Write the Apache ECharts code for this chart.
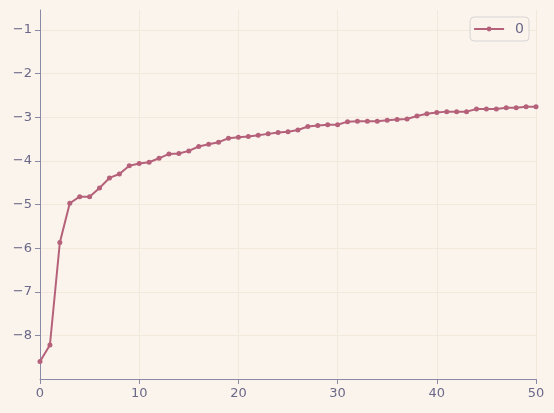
<!DOCTYPE html>
<html><head><meta charset="utf-8">
<script src="https://cdn.jsdelivr.net/npm/echarts@6/dist/echarts.min.js"></script>
<style>html,body{margin:0;padding:0;background:#faf4ed;}#c{width:554px;height:413px;}</style>
</head><body><div id="c"></div>
<script>
const xValues = [0,1,2,3,4,5,6,7,8,9,10,11,12,13,14,15,16,17,18,19,20,21,22,23,24,25,26,27,28,29,30,31,32,33,34,35,36,37,38,39,40,41,42,43,44,45,46,47,48,49,50];
const yValues = [-8.60,-8.22,-5.87,-4.97,-4.82,-4.82,-4.62,-4.39,-4.30,-4.11,-4.06,-4.03,-3.94,-3.84,-3.83,-3.77,-3.67,-3.62,-3.57,-3.48,-3.46,-3.44,-3.41,-3.38,-3.35,-3.33,-3.29,-3.21,-3.19,-3.17,-3.17,-3.10,-3.09,-3.09,-3.09,-3.07,-3.05,-3.04,-2.97,-2.92,-2.89,-2.87,-2.87,-2.87,-2.81,-2.81,-2.81,-2.78,-2.78,-2.76,-2.76];
const yTicks = [-8,-7,-6,-5,-4,-3,-2,-1];
const seriesName = '0';
const chart = echarts.init(document.getElementById('c'));
const axisColor = '#8a8aa6';
const labelColor = '#6b6888';
const gridColor = '#f2e8dc';
chart.setOption({
  backgroundColor: '#faf4ed',
  animation: false,
  grid: {left: 40, right: 18, top: 10, bottom: 34},
  legend: {
    right: 25, top: 17, data: [seriesName],
    backgroundColor: '#faf4ed', borderColor: '#d8d4d2', borderWidth: 1, borderRadius: 4,
    padding: [5, 5, 5, 3], itemWidth: 30, itemHeight: 6, itemGap: 10,
    textStyle: {color: labelColor, fontSize: 14, fontFamily: 'DejaVu Sans', padding: [0, 0, 0, 6]}
  },
  xAxis: {
    type: 'value', min: 0, max: 50, interval: 10,
    axisLine: {lineStyle: {color: axisColor}},
    axisTick: {show: true, length: 5, lineStyle: {color: axisColor}},
    axisLabel: {color: labelColor, fontSize: 13, fontFamily: 'DejaVu Sans', margin: 8},
    splitLine: {show: true, lineStyle: {color: gridColor}}
  },
  yAxis: {
    type: 'value', min: -9, max: -0.54, interval: 1,
    axisLine: {show: true, lineStyle: {color: axisColor}},
    axisTick: {show: true, length: 5, lineStyle: {color: axisColor}, customValues: yTicks},
    axisLabel: {color: labelColor, fontSize: 13, fontFamily: 'DejaVu Sans', margin: 8, customValues: yTicks,
      formatter: v => (v < 0 ? '\u2212' + Math.abs(v) : String(v))},
    splitLine: {show: true, lineStyle: {color: gridColor}}
  },
  series: [{
    name: seriesName, type: 'line',
    data: xValues.map((x, i) => [x, yValues[i]]),
    symbol: 'circle', symbolSize: 5, showSymbol: true,
    itemStyle: {color: '#b5617a'},
    lineStyle: {color: '#b5617a', width: 2}
  }]
});
</script></body></html>
